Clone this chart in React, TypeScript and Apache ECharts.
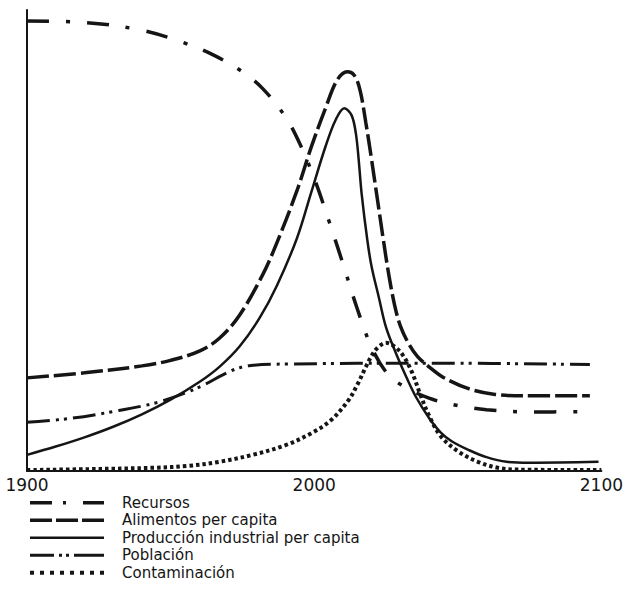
import React, { useEffect, useRef } from "react";
import * as echarts from "echarts";

const xTicks = [1900, 2000, 2100];

const seriesNames = [
  "Recursos",
  "Alimentos per capita",
  "Producción industrial per capita",
  "Población",
  "Contaminación",
];

const recursosYears = [1900, 1920, 1940, 1955, 1965, 1975, 1982, 1990, 1995, 2000, 2005, 2010, 2015, 2020, 2025, 2030, 2040, 2050, 2060, 2075, 2096];
const recursosValues = [97.6, 97.3, 95.6, 92.8, 90.2, 86.6, 83.0, 76.8, 71.0, 63.5, 54.5, 45.0, 35.2, 26.8, 21.5, 18.8, 15.8, 14.2, 13.3, 12.8, 12.9];

const alimentosYears = [1900, 1920, 1940, 1950, 1960, 1967, 1974, 1982, 1987, 1994, 1999, 2004, 2008, 2011.5, 2014, 2016, 2018, 2020, 2022, 2024, 2026, 2028, 2030, 2033, 2036, 2040, 2045, 2054, 2063, 2073, 2096];
const alimentosValues = [20.2, 21.3, 22.8, 24.0, 26.0, 28.8, 33.8, 42.5, 49.5, 60.8, 70.3, 78.8, 84.8, 86.6, 85.8, 82.5, 75.5, 67.5, 59.0, 50.5, 42.5, 36.0, 31.5, 27.5, 24.8, 22.6, 20.3, 17.8, 16.6, 16.3, 16.3];

const produccionYears = [1900, 1910, 1920, 1930, 1940, 1950, 1960, 1967, 1974, 1981, 1987, 1994, 1999, 2004, 2007.5, 2010.5, 2013, 2014.5, 2015.5, 2016.5, 2018.5, 2020, 2022.5, 2025, 2028.5, 2032, 2035.5, 2040, 2044, 2048, 2054, 2060, 2067, 2075, 2099];
const produccionValues = [3.5, 5.3, 7.3, 9.6, 12.3, 15.5, 19.3, 22.6, 27.0, 33.2, 40.2, 50.5, 60.5, 70.5, 76.2, 78.7, 77.2, 73.3, 67.5, 60.3, 50.1, 44.3, 37.7, 31.2, 25.5, 20.5, 16.0, 11.5, 8.4, 6.4, 4.5, 3.0, 2.0, 1.8, 2.0];

const poblacionYears = [1900, 1915, 1930, 1945, 1955, 1962, 1968, 1973, 1978, 1990, 2040, 2096];
const poblacionValues = [10.6, 11.4, 12.9, 14.8, 16.9, 18.8, 20.8, 22.2, 22.9, 23.2, 23.4, 23.1];

const contaminacionYears = [1900, 1921, 1944, 1956, 1967, 1978.5, 1990, 1999, 2006, 2012, 2015, 2018, 2020, 2022, 2025, 2028, 2031, 2034, 2037, 2040, 2044, 2050, 2057, 2064, 2071, 2100];
const contaminacionValues = [0.2, 0.4, 0.7, 1.1, 2.0, 3.5, 5.6, 8.2, 11.1, 15.4, 18.7, 22.6, 25.0, 26.7, 27.8, 27.0, 25.0, 21.5, 16.5, 12.0, 7.6, 4.3, 2.0, 0.7, 0.3, 0.2];

const zip = (xs: number[], ys: number[]) => xs.map((x, i) => [x, ys[i]]);

const INK = "#151515";

const lineStyles: any[] = [
  { width: 3.5, type: [22, 17, 4, 17] },
  { width: 3.5, type: [22, 5] },
  { width: 2.5, type: "solid" },
  { width: 3, type: [23, 6, 3, 5, 3, 6] },
  { width: 4, type: [3.5, 3] },
];

const legendDashes: any[] = [
  [22, 11, 3, 17, 60],
  [22, 4],
  "solid",
  [24, 5, 3, 4, 3, 5, 60],
  [4, 6],
];

export default function App() {
  const ref = useRef<HTMLDivElement>(null);

  useEffect(() => {
    if (!ref.current) return;
    const chart = echarts.init(ref.current, null, { renderer: "svg" });
    const dataSets = [
      zip(recursosYears, recursosValues),
      zip(alimentosYears, alimentosValues),
      zip(produccionYears, produccionValues),
      zip(poblacionYears, poblacionValues),
      zip(contaminacionYears, contaminacionValues),
    ];
    chart.setOption({
      animation: false,
      backgroundColor: "#ffffff",
      grid: { left: 27, right: 23, top: 10, bottom: 119, containLabel: false },
      xAxis: {
        type: "value",
        min: xTicks[0],
        max: xTicks[xTicks.length - 1],
        interval: 100,
        axisLine: { show: true, onZero: false, lineStyle: { color: INK, width: 2 } },
        axisTick: { show: false },
        splitLine: { show: false },
        axisLabel: {
          color: INK,
          fontFamily: "DejaVu Sans",
          fontSize: 17,
          margin: 5,
          showMinLabel: true,
          showMaxLabel: true,
          formatter: (v: number) => String(v),
        },
      },
      yAxis: {
        type: "value",
        min: 0,
        max: 100,
        axisLine: { show: true, lineStyle: { color: INK, width: 2 } },
        axisTick: { show: false },
        axisLabel: { show: false },
        splitLine: { show: false },
      },
      legend: {
        orient: "vertical",
        left: 28,
        top: 494,
        padding: 0,
        itemWidth: 74,
        itemHeight: 17.5,
        itemGap: 0,
        selectedMode: false,
        itemStyle: { opacity: 0, borderWidth: 0 },
        textStyle: {
          color: INK,
          fontFamily: "DejaVu Sans",
          fontSize: 15,
          lineHeight: 17.5,
          padding: [0, 0, 0, 13],
        },
        data: seriesNames.map((n, i) => ({
          name: n,
          lineStyle: {
            type: legendDashes[i],
            width: lineStyles[i].width,
            color: INK,
            opacity: 1,
          },
        })),
      },
      series: seriesNames.map((n, i) => ({
        type: "line",
        name: n,
        data: dataSets[i],
        smooth: 0.35,
        symbol: "none",
        clip: false,
        lineStyle: { color: INK, width: lineStyles[i].width, type: lineStyles[i].type },
        itemStyle: { color: INK },
      })),
    });
    return () => chart.dispose();
  }, []);

  return (
    <div
      ref={ref}
      style={{ position: "absolute", left: 0, top: 0, width: 626, height: 590 }}
    />
  );
}
